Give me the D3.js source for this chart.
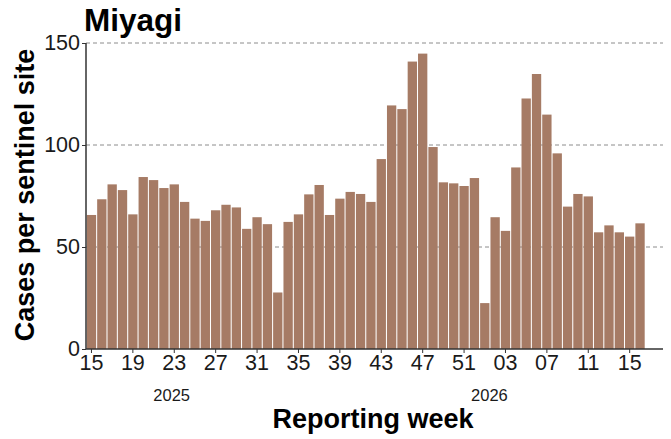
<!DOCTYPE html>
<html>
<head>
<meta charset="utf-8">
<script src="https://cdn.jsdelivr.net/npm/d3@7"></script>
<style>
  html, body { margin: 0; padding: 0; background: #fff; }
  svg { display: block; font-family: "Liberation Sans", Arial, sans-serif; }
</style>
</head>
<body>
<svg id="chart" width="671" height="439"></svg>
<script>
// Weekly cases per sentinel site, Miyagi, 2025-W15 .. 2026-W16
var weeks2025 = d3.range(15, 53);
var weeks2026 = d3.range(1, 17);

var values2025 = [
  65.7, 73.4, 80.7, 77.9, 66.0, 84.3, 82.8, 78.9, 80.7, 72.1,
  63.9, 62.8, 68.0, 70.7, 69.4, 58.9, 64.6, 61.2, 27.7, 62.3,
  66.0, 75.8, 80.4, 65.7, 73.7, 77.0, 76.0, 72.1, 93.1, 119.4,
  117.6, 140.9, 144.8, 99.0, 81.7, 81.2, 79.9, 83.8
];
var values2026 = [
  22.5, 64.6, 57.9, 89.0, 122.8, 134.8, 114.9, 95.9, 69.8, 76.0,
  74.8, 57.2, 60.6, 57.2, 55.1, 61.6
];

var yTicks = [0, 50, 100, 150];
var yearLabels = [
  { label: "2025", key: "2025-23", shift: -0.25 },
  { label: "2026", key: "2026-1", shift: 0.45 }
];

(function () {
  "use strict";

  var data = weeks2025.map(function (w, i) {
    return { key: "2025-" + w, week: w, value: values2025[i] };
  }).concat(weeks2026.map(function (w, i) {
    return { key: "2026-" + w, week: w, value: values2026[i] };
  }));

  var svg = d3.select("#chart");
  var mLeft = 86, mRight = 663, mTop = 43, mBottom = 349;

  var x = d3.scaleBand()
    .domain(data.map(function (d) { return d.key; }))
    .range([mLeft + 0.5, 645])
    .paddingInner(0.1)
    .paddingOuter(0.03);

  var y = d3.scaleLinear().domain([0, 150]).range([mBottom, mTop]);

  // gridlines
  svg.append("g")
    .selectAll("line")
    .data(yTicks.filter(function (t) { return t > 0; }))
    .join("line")
    .attr("x1", mLeft).attr("x2", mRight)
    .attr("y1", function (d) { return y(d); })
    .attr("y2", function (d) { return y(d); })
    .attr("stroke", "#8c8c8c")
    .attr("stroke-width", 1)
    .attr("stroke-dasharray", "4,3");

  // bars
  svg.append("g")
    .selectAll("rect")
    .data(data)
    .join("rect")
    .attr("x", function (d) { return x(d.key); })
    .attr("width", x.bandwidth())
    .attr("y", function (d) { return y(d.value); })
    .attr("height", function (d) { return y(0) - y(d.value); })
    .attr("fill", "#a67b65");

  // y axis
  var yAxis = svg.append("g")
    .attr("transform", "translate(" + mLeft + ",0)")
    .call(d3.axisLeft(y).tickValues(yTicks).tickSize(4).tickPadding(2));
  yAxis.select(".domain").attr("stroke", "#333").attr("stroke-width", 1.5)
    .attr("d", "M0," + mTop + "V" + mBottom);
  yAxis.selectAll(".tick line").attr("stroke", "#333");
  yAxis.selectAll(".tick text")
    .attr("font-size", "21.5px").attr("fill", "#1a1a1a")
    .attr("font-family", "'Liberation Sans', Arial, sans-serif");

  // x axis
  var tickKeys = data.filter(function (d, i) { return i % 4 === 0; }).map(function (d) { return d.key; });
  var byKey = {};
  data.forEach(function (d) { byKey[d.key] = d; });

  var xAxis = svg.append("g")
    .attr("transform", "translate(0," + mBottom + ")")
    .call(d3.axisBottom(x).tickValues(tickKeys).tickSize(4).tickPadding(2)
      .tickFormat(function (k) { return d3.format("02d")(byKey[k].week); }));
  xAxis.select(".domain").attr("stroke", "#333").attr("stroke-width", 1.5)
    .attr("d", "M" + mLeft + ",0H" + mRight);
  xAxis.selectAll(".tick line").attr("stroke", "#333");
  xAxis.selectAll(".tick text")
    .attr("font-size", "21.5px").attr("fill", "#1a1a1a")
    .attr("font-family", "'Liberation Sans', Arial, sans-serif");

  // year labels
  svg.append("g")
    .selectAll("text")
    .data(yearLabels)
    .join("text")
    .attr("x", function (d) { return x(d.key) + x.bandwidth() / 2 + d.shift * x.step(); })
    .attr("y", 401)
    .attr("text-anchor", "middle")
    .attr("font-size", "16.5px")
    .attr("fill", "#1a1a1a")
    .text(function (d) { return d.label; });

  // titles
  svg.append("text")
    .attr("x", 84).attr("y", 31)
    .attr("font-size", "31.5px").attr("font-weight", "bold")
    .text("Miyagi");

  svg.append("text")
    .attr("x", 373).attr("y", 428)
    .attr("text-anchor", "middle")
    .attr("font-size", "27px").attr("font-weight", "bold")
    .text("Reporting week");

  svg.append("text")
    .attr("transform", "translate(34,195) rotate(-90)")
    .attr("text-anchor", "middle")
    .attr("font-size", "27px").attr("font-weight", "bold")
    .text("Cases per sentinel site");
})();
</script>
</body>
</html>
